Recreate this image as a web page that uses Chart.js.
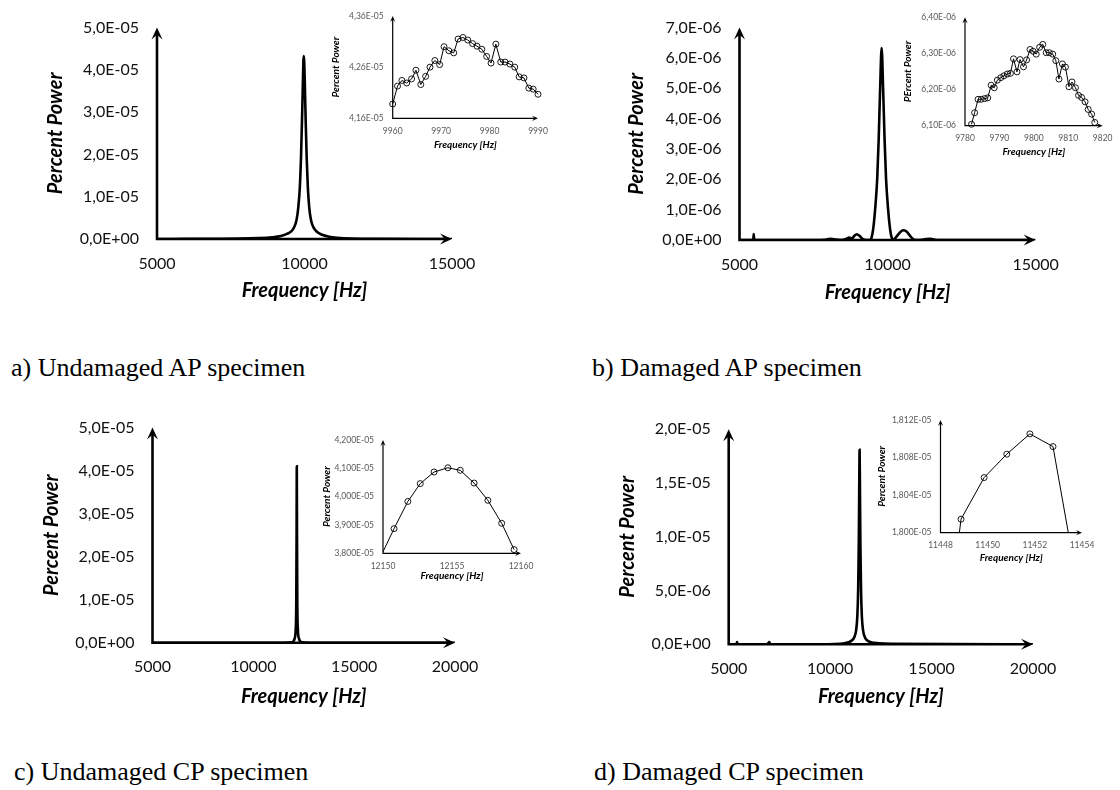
<!DOCTYPE html>
<html>
<head>
<meta charset="utf-8">
<script src="https://cdn.jsdelivr.net/npm/chart.js@4.4.1/dist/chart.umd.min.js"></script>
<style>
  body { margin: 0; background: #fff; }
  #page { position: relative; width: 1120px; height: 790px; overflow: hidden; background: #fff; }
  canvas { position: absolute; }
  .cap { position: absolute; font-family: "Liberation Serif", "Times New Roman", serif; font-size: 26px; line-height: 1; color: #000; white-space: nowrap; }
</style>
</head>
<body>
<div id="page">
  <canvas id="mainA"></canvas>
  <canvas id="mainB"></canvas>
  <canvas id="mainC"></canvas>
  <canvas id="mainD"></canvas>
  <canvas id="insetA"></canvas>
  <canvas id="insetB"></canvas>
  <canvas id="insetC"></canvas>
  <canvas id="insetD"></canvas>
  <div class="cap" style="left:11px; top:355px;">a) Undamaged AP specimen</div>
  <div class="cap" style="left:592px; top:355px;">b) Damaged AP specimen</div>
  <div class="cap" style="left:14px; top:759px;">c) Undamaged CP specimen</div>
  <div class="cap" style="left:594px; top:759px;">d) Damaged CP specimen</div>
</div>
<script>
// a) undamaged AP - spectrum, power in 1E-05
const aFreq = [5000, 6000, 7000, 7800, 8400, 8900, 9200, 9400, 9550, 9650, 9730, 9790, 9840, 9880, 9915, 9945, 9962, 9975, 9990, 10010, 10040, 10075, 10115, 10160, 10220, 10300, 10420, 10600, 10800, 11100, 11600, 12500, 15000];
const aPower = [0, 0.003, 0.006, 0.01, 0.02, 0.04, 0.07, 0.12, 0.18, 0.28, 0.45, 0.75, 1.2, 1.9, 2.8, 3.7, 4.2, 4.33, 4.2, 3.7, 2.8, 1.9, 1.2, 0.75, 0.45, 0.28, 0.17, 0.1, 0.06, 0.03, 0.01, 0.005, 0];

// b) damaged AP - spectrum, power in 1E-06
const bFreq = [5000, 5465, 5480, 5495, 7000, 7900, 8050, 8200, 8400, 8600, 8700, 8800, 8880, 8960, 9050, 9150, 9300, 9400, 9460, 9520, 9580, 9650, 9700, 9750, 9800, 9850, 9900, 9950, 10020, 10080, 10140, 10200, 10250, 10350, 10450, 10550, 10650, 10750, 10850, 10950, 11100, 11300, 11450, 11600, 12000, 15000];
const bPower = [0, 0, 0.2, 0, 0, 0.01, 0.04, 0.02, 0, 0.03, 0.08, 0.05, 0.14, 0.19, 0.14, 0.04, 0, 0, 0.08, 0.4, 1.0, 2.0, 3.3, 5.0, 6.33, 5.0, 3.3, 2.0, 1.0, 0.4, 0.08, 0.02, 0.05, 0.17, 0.28, 0.32, 0.27, 0.15, 0.04, 0, 0, 0.03, 0.04, 0.01, 0, 0];

// c) undamaged CP - spectrum, power in 1E-05
const cFreq = [5000, 11500, 11900, 11980, 12050, 12100, 12130, 12145, 12155, 12165, 12180, 12210, 12260, 12330, 12420, 12800, 20000];
const cPower = [0, 0, 0.01, 0.03, 0.1, 0.3, 1.0, 2.6, 4.1, 2.6, 1.0, 0.3, 0.1, 0.03, 0.01, 0, 0];

// d) damaged CP - spectrum, power in 1E-05
const dFreq = [5000, 5380, 5410, 5440, 6900, 6950, 7000, 7050, 9000, 10500, 10900, 11100, 11200, 11280, 11340, 11380, 11410, 11430, 11452, 11474, 11494, 11524, 11564, 11624, 11704, 11804, 12000, 12400, 13000, 20000];
const dPower = [0, 0, 0.02, 0, 0, 0.01, 0.02, 0, 0, 0.005, 0.02, 0.04, 0.07, 0.13, 0.26, 0.5, 0.9, 1.35, 1.81, 1.35, 0.9, 0.5, 0.26, 0.13, 0.07, 0.04, 0.02, 0.01, 0.005, 0];

// insets (zoom on the peaks)
const aInFreq = [9960.0, 9961.0, 9961.9, 9962.9, 9963.9, 9964.8, 9965.8, 9966.8, 9967.7, 9968.7, 9969.7, 9970.6, 9971.6, 9972.6, 9973.5, 9974.5, 9975.5, 9976.5, 9977.4, 9978.4, 9979.4, 9980.3, 9981.3, 9982.3, 9983.2, 9984.2, 9985.2, 9986.1, 9987.1, 9988.1, 9989.0, 9990.0];
const aInPower = [4.188, 4.223, 4.234, 4.229, 4.237, 4.254, 4.226, 4.242, 4.260, 4.273, 4.265, 4.300, 4.292, 4.288, 4.315, 4.318, 4.313, 4.306, 4.301, 4.295, 4.281, 4.268, 4.305, 4.270, 4.270, 4.266, 4.260, 4.241, 4.239, 4.219, 4.217, 4.207];

const bInFreq = [9781.9, 9782.8, 9783.8, 9784.7, 9785.7, 9786.6, 9787.6, 9788.5, 9789.4, 9790.4, 9791.3, 9792.3, 9793.2, 9794.1, 9795.1, 9796.0, 9797.0, 9797.9, 9798.9, 9799.8, 9800.7, 9801.7, 9802.6, 9803.6, 9804.5, 9805.5, 9806.4, 9807.3, 9808.3, 9809.2, 9810.2, 9811.1, 9812.1, 9813.0, 9813.9, 9814.9, 9815.8, 9816.8, 9817.7];
const bInPower = [6.104, 6.136, 6.173, 6.173, 6.175, 6.177, 6.212, 6.205, 6.226, 6.233, 6.238, 6.243, 6.245, 6.285, 6.249, 6.283, 6.263, 6.282, 6.311, 6.306, 6.298, 6.317, 6.325, 6.302, 6.302, 6.298, 6.280, 6.229, 6.271, 6.262, 6.208, 6.221, 6.205, 6.184, 6.178, 6.166, 6.145, 6.132, 6.109];

const cInFreq = [12149.8, 12150.8, 12151.8, 12152.7, 12153.7, 12154.7, 12155.6, 12156.6, 12157.6, 12158.6, 12159.5];
const cInPower = [3.785, 3.887, 3.983, 4.046, 4.087, 4.102, 4.093, 4.048, 3.987, 3.906, 3.813];

const dInFreq = [11447.9, 11448.87, 11449.85, 11450.81, 11451.79, 11452.77, 11453.75];
const dInPower = [1.7815, 1.80144, 1.80587, 1.80836, 1.81052, 1.80917, 1.79534];

// ticks
const xTicksAB = [5000, 10000, 15000];
const xTicksCD = [5000, 10000, 15000, 20000];
const yTicksA = [0, 1, 2, 3, 4, 5];
const yLabelsA = ["0,0E+00", "1,0E-05", "2,0E-05", "3,0E-05", "4,0E-05", "5,0E-05"];
const yTicksB = [0, 1, 2, 3, 4, 5, 6, 7];
const yLabelsB = ["0,0E+00", "1,0E-06", "2,0E-06", "3,0E-06", "4,0E-06", "5,0E-06", "6,0E-06", "7,0E-06"];
const yTicksD = [0, 0.5, 1, 1.5, 2];
const yLabelsD = ["0,0E+00", "5,0E-06", "1,0E-05", "1,5E-05", "2,0E-05"];

const xTicksInA = [9960, 9970, 9980, 9990];
const yTicksInA = [4.16, 4.26, 4.36];
const yLabelsInA = ["4,16E-05", "4,26E-05", "4,36E-05"];
const xTicksInB = [9780, 9790, 9800, 9810, 9820];
const yTicksInB = [6.1, 6.2, 6.3, 6.4];
const yLabelsInB = ["6,10E-06", "6,20E-06", "6,30E-06", "6,40E-06"];
const xTicksInC = [12150, 12155, 12160];
const yTicksInC = [3.8, 3.9, 4.0, 4.1, 4.2];
const yLabelsInC = ["3,800E-05", "3,900E-05", "4,000E-05", "4,100E-05", "4,200E-05"];
const xTicksInD = [11448, 11450, 11452, 11454];
const yTicksInD = [1.8, 1.804, 1.808, 1.812];
const yLabelsInD = ["1,800E-05", "1,804E-05", "1,808E-05", "1,812E-05"];

// looks
const MAIN = { tick: 16, title: 20, tickColor: "#111", xPad: 15, yPad: 18, line: 2.6, radius: 0, arrow: { w: 2.6, len: 12, half: 5.5 } };
const INSET = { tick: 8.5, title: 10, tickColor: "#595959", xPad: 7.5, yPad: 9, line: 1, radius: 3, arrow: { w: 1.2, len: 6, half: 2.6 } };

// draws both axes with arrow heads at the ends
const axisArrows = {
  id: "axisArrows",
  afterDatasetsDraw(chart, args, o) {
    const ctx = chart.ctx;
    const a = chart.chartArea;
    ctx.save();
    ctx.strokeStyle = "#000";
    ctx.fillStyle = "#000";
    ctx.lineWidth = o.w;
    ctx.beginPath();
    ctx.moveTo(a.left, a.top + o.len * 0.5);
    ctx.lineTo(a.left, a.bottom);
    ctx.lineTo(a.right - o.len * 0.5, a.bottom);
    ctx.stroke();
    head(ctx, a.left, a.top, 0, -1, o.len, o.half);
    head(ctx, a.right, a.bottom, 1, 0, o.len, o.half);
    ctx.restore();
  },
};

function head(ctx, x, y, dx, dy, len, half) {
  const bx = x - dx * len;
  const by = y - dy * len;
  ctx.beginPath();
  ctx.moveTo(x, y);
  ctx.lineTo(bx - dy * half, by + dx * half);
  ctx.lineTo(x - dx * len * 0.6, y - dy * len * 0.6);
  ctx.lineTo(bx + dy * half, by - dx * half);
  ctx.closePath();
  ctx.fill();
}

function pts(xs, ys) {
  return xs.map((x, i) => ({ x: x, y: ys[i] }));
}

// box = canvas [x0,y0,x1,y1], area = plot [left,top,right,bottom], page px
function makeChart(id, place, d, look) {
  const box = place.box, area = place.area;
  const cv = document.getElementById(id);
  cv.width = box[2] - box[0];
  cv.height = box[3] - box[1];
  cv.style.left = box[0] + "px";
  cv.style.top = box[1] + "px";
  const titleLH = look.title * 1.2;
  const titleFont = { family: "Lato", size: look.title, weight: "bold", style: "italic" };
  const tickFont = { family: "Lato", size: look.tick };

  return new Chart(cv, {
    type: "scatter",
    data: {
      datasets: [{
        data: pts(d.xs, d.ys),
        showLine: true,
        borderColor: "#000",
        borderWidth: look.line,
        pointRadius: look.radius,
        pointBorderWidth: 0.9,
        pointBorderColor: "#000",
        pointBackgroundColor: "rgba(255,255,255,0)",
        cubicInterpolationMode: d.smooth ? "monotone" : "default",
        tension: 0,
        clip: d.clip,
      }],
    },
    options: {
      responsive: false,
      animation: false,
      events: [],
      layout: { padding: { left: 0, top: area[1] - box[1], right: box[2] - area[2], bottom: 0 } },
      plugins: {
        legend: { display: false },
        tooltip: { enabled: false },
        axisArrows: look.arrow,
      },
      scales: {
        x: {
          type: "linear",
          min: d.xMin,
          max: d.xMax,
          grid: { display: false, drawTicks: false },
          border: { display: false },
          afterBuildTicks: (s) => { s.ticks = d.xTicks.map((v) => ({ value: v })); },
          afterFit: (s) => { s.height = box[3] - area[3]; },
          ticks: {
            autoSkip: false,
            maxRotation: 0,
            padding: look.xPad,
            color: look.tickColor,
            font: tickFont,
            callback: (v, i) => String(d.xTicks[i]),
          },
          title: {
            display: true,
            text: d.xTitle,
            color: "#000",
            font: titleFont,
            padding: { top: 0, bottom: box[3] - place.xTitleY - titleLH / 2 },
          },
        },
        y: {
          type: "linear",
          min: d.yMin,
          max: d.yMax,
          grid: { display: false, drawTicks: false },
          border: { display: false },
          afterBuildTicks: (s) => { s.ticks = d.yTicks.map((v) => ({ value: v })); },
          afterFit: (s) => { s.width = area[0] - box[0]; },
          ticks: {
            autoSkip: false,
            padding: look.yPad,
            color: look.tickColor,
            font: tickFont,
            callback: (v, i) => d.yLabels[i],
          },
          title: {
            display: true,
            text: d.yTitle,
            color: "#000",
            font: titleFont,
            padding: { top: place.yTitleX - box[0] - titleLH / 2, bottom: 0 },
          },
        },
      },
    },
    plugins: [axisArrows],
  });
}

const FREQ = "Frequency [Hz]";
const POWER = "Percent Power";
const innerClip = { left: 0, top: 8, right: 8, bottom: 0 };

makeChart("mainA", { box: [0, 0, 520, 310], area: [157, 23, 452, 239], xTitleY: 291, yTitleX: 56 },
  { xs: aFreq, ys: aPower, xMin: 5000, xMax: 15000, yMin: 0, yMax: 5, xTicks: xTicksAB, yTicks: yTicksA, yLabels: yLabelsA, xTitle: FREQ, yTitle: POWER, smooth: true }, MAIN);

makeChart("mainB", { box: [580, 0, 1120, 310], area: [739.5, 24, 1035.6, 240], xTitleY: 293, yTitleX: 637 },
  { xs: bFreq, ys: bPower, xMin: 5000, xMax: 15000, yMin: 0, yMax: 7, xTicks: xTicksAB, yTicks: yTicksB, yLabels: yLabelsB, xTitle: FREQ, yTitle: POWER, smooth: true }, MAIN);

makeChart("mainC", { box: [0, 400, 520, 715], area: [152.5, 426.7, 455, 642.7], xTitleY: 697, yTitleX: 52 },
  { xs: cFreq, ys: cPower, xMin: 5000, xMax: 20000, yMin: 0, yMax: 5, xTicks: xTicksCD, yTicks: yTicksA, yLabels: yLabelsA, xTitle: FREQ, yTitle: POWER, smooth: true }, MAIN);

makeChart("mainD", { box: [580, 400, 1120, 715], area: [728.7, 429.3, 1033, 644.3], xTitleY: 697, yTitleX: 628 },
  { xs: dFreq, ys: dPower, xMin: 5000, xMax: 20000, yMin: 0, yMax: 2, xTicks: xTicksCD, yTicks: yTicksD, yLabels: yLabelsD, xTitle: FREQ, yTitle: POWER, smooth: true }, MAIN);

makeChart("insetA", { box: [300, 0, 560, 160], area: [392.7, 16, 538, 118.3], xTitleY: 145, yTitleX: 336 },
  { xs: aInFreq, ys: aInPower, xMin: 9960, xMax: 9990, yMin: 4.16, yMax: 4.36, xTicks: xTicksInA, yTicks: yTicksInA, yLabels: yLabelsInA, xTitle: FREQ, yTitle: POWER, clip: false }, INSET);

makeChart("insetB", { box: [880, 0, 1120, 170], area: [965, 17.3, 1106, 125.7], xTitleY: 152, yTitleX: 908 },
  { xs: bInFreq, ys: bInPower, xMin: 9780, xMax: 9820, yMin: 6.1, yMax: 6.4, xTicks: xTicksInB, yTicks: yTicksInB, yLabels: yLabelsInB, xTitle: FREQ, yTitle: "PErcent Power", clip: false }, INSET);

makeChart("insetC", { box: [300, 420, 560, 600], area: [383, 440, 521, 553.3], xTitleY: 576, yTitleX: 327 },
  { xs: cInFreq, ys: cInPower, xMin: 12150, xMax: 12160, yMin: 3.8, yMax: 4.2, xTicks: xTicksInC, yTicks: yTicksInC, yLabels: yLabelsInC, xTitle: FREQ, yTitle: POWER, clip: innerClip }, INSET);

makeChart("insetD", { box: [860, 400, 1120, 580], area: [940.5, 420, 1082, 532.7], xTitleY: 558, yTitleX: 882 },
  { xs: dInFreq, ys: dInPower, xMin: 11448, xMax: 11454, yMin: 1.8, yMax: 1.812, xTicks: xTicksInD, yTicks: yTicksInD, yLabels: yLabelsInD, xTitle: FREQ, yTitle: POWER, clip: innerClip }, INSET);
</script>
</body>
</html>
